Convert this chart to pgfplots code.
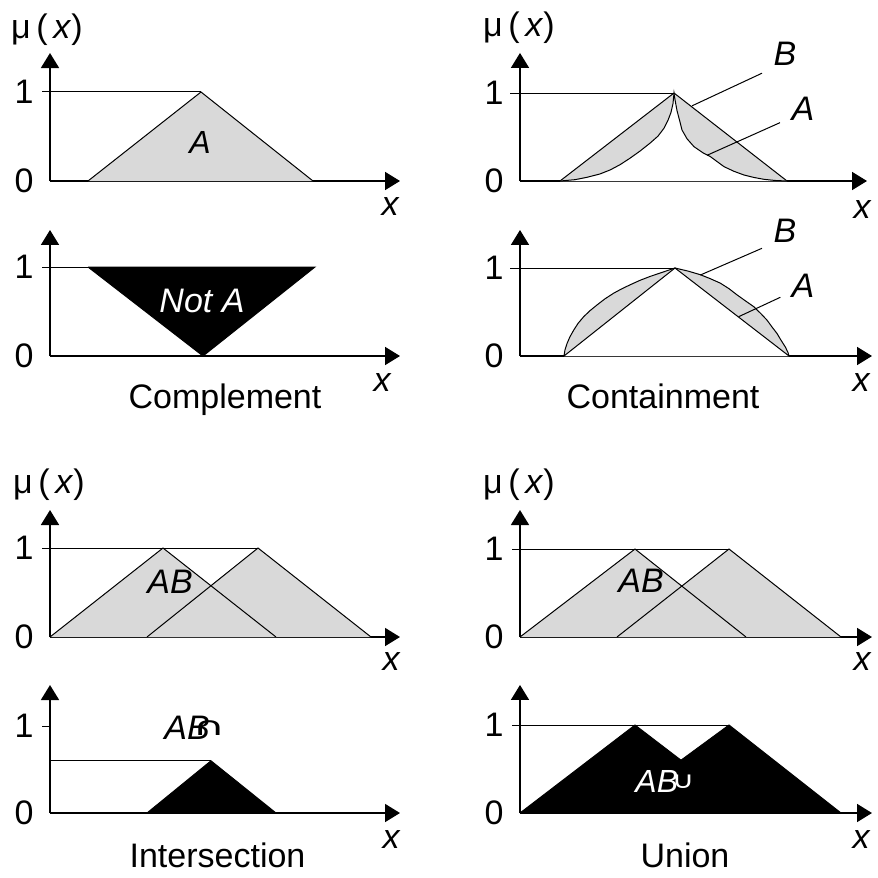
\documentclass[border=0pt]{standalone}
\usepackage{fontspec}
\setmainfont{Liberation Sans}
\newfontfamily\dejavu{DejaVu Sans}
\usepackage{graphicx}
\usepackage{pgfplots}
\pgfplotsset{compat=1.18}
\usetikzlibrary{arrows.meta}
\definecolor{fillgray}{RGB}{217,217,217}
\newcommand\fs[1]{\fontsize{#1}{#1}\selectfont}
\pgfplotsset{
  panel/.style={
    axis lines*=left,
    axis line style={line width=0.85pt, -{Triangle[length=7.5pt,width=9pt]}},
    x=0.5pt,
    xmin=0, ymin=0,
    enlargelimits=false,
    xtick=\empty,
    ytick={0,1}, yticklabels={0,1},
    major tick length=0pt,
    yticklabel style={inner sep=0pt, xshift=-8pt, font=\fs{17}},
    clip=false,
    anchor=south west,
  },
}
\begin{document}
\begin{tikzpicture}
\begin{scope}[x=0.5pt,y=-0.5pt]
\path[use as bounding box] (0,0) rectangle (874,878);
\end{scope}

% Panel 1: A
\begin{axis}[panel, at={(25pt,-90.5pt)}, xmax=350, ymax=1.438, y=44.5pt]
\addplot[fill=fillgray, draw=black, line width=0.5pt] coordinates {(38,0)(151,1)(263,0)};
\addplot[black, line width=0.5pt] coordinates {(-8,1)(151,1)};
\end{axis}

% Panel 2: Complement
\begin{axis}[panel, at={(25pt,-178pt)}, xmax=350, ymax=1.416, y=44.5pt]
\addplot[fill=black, draw=black, line width=0.5pt] coordinates {(38,1)(153,0)(265,1)(38,1)};
\addplot[black, line width=0.5pt] coordinates {(-8,1)(38,1)};
\end{axis}

% Panel 3: Containment top
\begin{axis}[panel, at={(260pt,-90.5pt)}, xmax=347, ymax=1.455, y=44pt]
\addplot[fill=fillgray, draw=black, line width=0.5pt] coordinates {(40,0)(154,1)(267,0)};
\addplot[fill=white, draw=black, line width=0.5pt] coordinates {
(40,0)(55,0.015)(67,0.042)(80,0.08)(90,0.125)(100,0.185)(110,0.259)(120,0.34)(130,0.43)(138,0.51)(144,0.6)(148,0.69)(151,0.78)(153,0.88)(154,1)
(155,0.924)(157,0.8)(160,0.67)(162,0.58)(167,0.48)(174,0.39)(183,0.32)(190,0.28)(204,0.163)(214,0.11)(224,0.068)(234,0.04)(244,0.019)(255,0.006)(267,0)};
\addplot[black, line width=0.5pt] coordinates {(-10,1)(154,1)};
\addplot[black, line width=0.5pt] coordinates {(172,0.854)(242,1.225)};
\addplot[black, line width=0.5pt] coordinates {(187,0.292)(260,0.663)};
\end{axis}

% Panel 4: Containment bottom
\begin{axis}[panel, at={(260pt,-178pt)}, xmax=352, ymax=1.432, y=44pt]
\addplot[fill=fillgray, draw=black, line width=0.5pt] coordinates {
(44,0)(45,0.07)(47,0.141)(50,0.22)(53.7,0.294)(58,0.37)(63.7,0.447)(70,0.515)(77,0.58)(85,0.65)(93.7,0.714)(102,0.765)(110.3,0.81)(120,0.86)(130.3,0.905)(142,0.95)(155,1)
(168,0.965)(180.3,0.924)(190,0.88)(200.3,0.828)(209,0.765)(217,0.695)(225,0.63)(233.7,0.561)(241,0.48)(247,0.408)(252,0.33)(257,0.256)(261,0.18)(265.3,0.103)(268,0.04)(269,0)};
\addplot[fill=white, draw=black, line width=0.5pt] coordinates {(44,0)(155,1)(269,0)};
\addplot[black, line width=0.5pt] coordinates {(-10,1)(155,1)};
\addplot[black, line width=0.5pt] coordinates {(180.3,0.92)(242,1.224)};
\addplot[black, line width=0.5pt] coordinates {(218.7,0.447)(260.3,0.667)};
\end{axis}

% Panel 5: Intersection top
\begin{axis}[panel, at={(25pt,-318.5pt)}, xmax=350, ymax=1.427, y=44.5pt]
\addplot[fill=fillgray, draw=none] coordinates {(0,0)(113,1)(226,0)};
\addplot[fill=fillgray, draw=none] coordinates {(97,0)(208,1)(321,0)};
\addplot[black, line width=0.5pt] coordinates {(0,0)(113,1)(226,0)};
\addplot[black, line width=0.5pt] coordinates {(97,0)(208,1)(321,0)};
\addplot[black, line width=0.5pt] coordinates {(-8,1)(208,1)};
\end{axis}

% Panel 6: Intersection bottom
\begin{axis}[panel, at={(25pt,-406.5pt)}, xmax=350, ymax=1.471, y=43.5pt]
\addplot[fill=black, draw=black, line width=0.5pt] coordinates {(97,0)(161,0.6)(226,0)};
\addplot[black, line width=0.5pt] coordinates {(0,0.6)(161,0.6)};
\addplot[black, line width=0.5pt] coordinates {(-8,1)(0,1)};
\end{axis}

% Panel 7: Union top
\begin{axis}[panel, at={(260pt,-318.5pt)}, xmax=352, ymax=1.443, y=44pt]
\addplot[fill=fillgray, draw=none] coordinates {(0,0)(115,1)(226,0)};
\addplot[fill=fillgray, draw=none] coordinates {(97,0)(209,1)(321,0)};
\addplot[black, line width=0.5pt] coordinates {(0,0)(115,1)(226,0)};
\addplot[black, line width=0.5pt] coordinates {(97,0)(209,1)(321,0)};
\addplot[black, line width=0.5pt] coordinates {(-8,1)(209,1)};
\end{axis}

% Panel 8: Union bottom
\begin{axis}[panel, at={(260pt,-406.5pt)}, xmax=352, ymax=1.455, y=44pt]
\addplot[fill=black, draw=black, line width=0.5pt] coordinates {(0,0)(115,1)(161,0.6)(209,1)(321,0)};
\addplot[black, line width=0.5pt] coordinates {(-8,1)(209,1)};
\end{axis}

\begin{scope}[x=0.5pt,y=-0.5pt]
% mu(x) labels
\node[font=\fs{17}] at (47,30) {μ\,(\,\textit{x})};
\node[font=\fs{17}] at (519,28) {μ\,(\,\textit{x})};
\node[font=\fs{17}] at (49,485) {μ\,(\,\textit{x})};
\node[font=\fs{17}] at (519,485) {μ\,(\,\textit{x})};
% x labels
\node[font=\fs{17}\itshape] at (390,207) {x};
\node[font=\fs{17}\itshape] at (382,383) {x};
\node[font=\fs{17}\itshape] at (862,210) {x};
\node[font=\fs{17}\itshape] at (861,383) {x};
\node[font=\fs{17}\itshape] at (391,662) {x};
\node[font=\fs{17}\itshape] at (391,840) {x};
\node[font=\fs{17}\itshape] at (862,662) {x};
\node[font=\fs{17}\itshape] at (861,840) {x};
% set labels
\node[font=\fs{16}\itshape] at (200,142) {A};
\node[font=\fs{17}\itshape, text=white] at (202,301) {Not A};
\node[font=\fs{17}\itshape] at (785,54) {B};
\node[font=\fs{17}\itshape] at (803,109) {A};
\node[font=\fs{17}\itshape] at (785,231) {B};
\node[font=\fs{17}\itshape] at (803,286) {A};
\node[font=\fs{17}\itshape] at (170,582) {AB};
\node[font=\fs{17}\itshape] at (641,581) {AB};
\node[font=\fs{17}\itshape, anchor=base west, inner sep=0pt] at (164,739) {AB};
\node[inner sep=0pt] at (209,728) {\scalebox{1.4}[0.8]{\dejavu\fs{16}∩}};
\node[font=\fs{16}\itshape, text=white, anchor=base west, inner sep=0pt] at (635,792) {AB};
\node[inner sep=0pt, text=white] at (683,782) {\scalebox{1.2}[0.9]{\dejavu\fs{13}∪}};
% captions
\node[font=\fs{17}, anchor=base] at (225,408) {Complement};
\node[font=\fs{17}, anchor=base] at (663,408) {Containment};
\node[font=\fs{17}, anchor=base] at (217.5,867) {Intersection};
\node[font=\fs{17}, anchor=base] at (685,867) {Union};
\end{scope}
\end{tikzpicture}
\end{document}
